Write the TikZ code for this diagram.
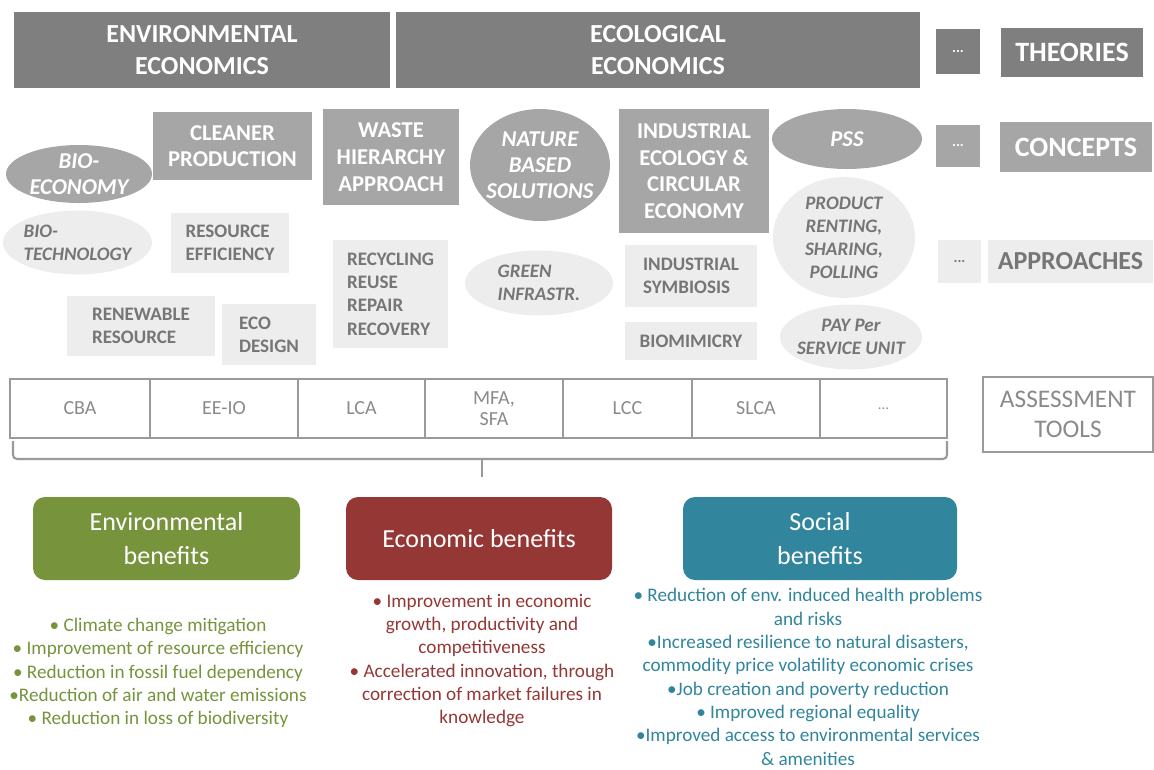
\documentclass[tikz,border=0pt]{standalone}
\usepackage{fontspec}
\setmainfont{Carlito}
\usetikzlibrary{positioning}
\usetikzlibrary{shapes.geometric}

\definecolor{theorygray}{HTML}{7F7F7F}
\definecolor{conceptgray}{HTML}{A6A6A6}
\definecolor{approachgray}{HTML}{EDEDED}
\definecolor{approachtext}{HTML}{767676}
\definecolor{toolline}{HTML}{9A9A9A}
\definecolor{tooltext}{HTML}{8A8A8A}
\definecolor{envgreen}{HTML}{77933C}
\definecolor{ecored}{HTML}{953735}
\definecolor{socteal}{HTML}{31859C}

\tikzset{sz/.style 2 args={minimum width=#1*0.75pt, minimum height=#2*0.75pt}}

\begin{document}
\begin{tikzpicture}[x=0.75pt, y=-0.75pt,
  every node/.style={inner sep=0pt, outer sep=0pt},
  theory/.style={fill=theorygray, text=white, align=center, font=\bfseries\fontsize{19.5}{23.5}\selectfont},
  concept/.style={fill=conceptgray, text=white, align=center, font=\bfseries\fontsize{17}{20}\selectfont},
  conceptoval/.style={concept, ellipse, inner sep=-8pt, font=\bfseries\itshape\fontsize{17}{19.5}\selectfont},
  approach/.style={fill=approachgray, text=approachtext, align=left, font=\bfseries\fontsize{14.3}{17.5}\selectfont},
  approachoval/.style={approach, ellipse, inner sep=-8pt, font=\bfseries\itshape\fontsize{14.3}{17.3}\selectfont},
  tool/.style={draw=toolline, line width=0.8pt, text=tooltext, align=center, font=\fontsize{15}{15.5}\selectfont},
  benefit/.style={rounded corners=9pt, text=white, align=center, font=\fontsize{19.5}{25.5}\selectfont},
  bullets/.style={align=center, font=\fontsize{14.4}{17.5}\selectfont},
  bracket/.style={draw=toolline, line width=1.6pt, rounded corners=3pt}]

  % frame of the page
  \useasboundingbox (0,0) rectangle (1154,769);

  % Theories
  \node[theory, sz={376}{76}] (envecon) at (202,50) {ENVIRONMENTAL\\ECONOMICS};
  \node[theory, sz={524}{76}] (ecoecon) at (658,50) {ECOLOGICAL\\ECONOMICS};
  \node[theory, sz={44}{45}, font=\bfseries\fontsize{11}{12}\selectfont] (tdots) at (958,51.5) {...};
  \node[theory, sz={142}{49}, font=\bfseries\fontsize{21}{24}\selectfont] (theories) at (1072,52.5) {THEORIES};

  % Concepts
  \node[conceptoval, sz={146}{58}] (bioeco) at (79,174) {BIO-\\ECONOMY};
  \node[concept, sz={159}{68}] (cleaner) at (232.5,146) {CLEANER\\PRODUCTION};
  \node[concept, sz={136}{96}] (waste) at (391,157) {WASTE\\HIERARCHY\\APPROACH};
  \node[conceptoval, sz={140}{112}] (nbs) at (540,165) {NATURE\\BASED\\SOLUTIONS};
  \node[concept, sz={150}{124}] (indeco) at (694,171) {INDUSTRIAL\\ECOLOGY \&\\CIRCULAR\\ECONOMY};
  \node[conceptoval, sz={150}{60}] (pss) at (847,139) {PSS};
  \node[concept, sz={44}{42}, font=\bfseries\fontsize{11}{12}\selectfont] (cdots) at (958,146) {...};
  \node[concept, sz={152}{50}, font=\bfseries\fontsize{21}{24}\selectfont] (concepts) at (1076,147) {CONCEPTS};

  % Approaches
  \node[approachoval, sz={149}{64}, align=left] (biotech) at (77.5,242.5) {BIO-\\TECHNOLOGY};
  \node[approach, sz={118}{60}] (reseff) at (230,243) {RESOURCE\\EFFICIENCY};
  \node[approach, sz={148}{60}] (renew) at (141,326) {RENEWABLE\\RESOURCE};
  \node[approach, sz={94}{61}] (ecodes) at (269,334.5) {ECO\\DESIGN};
  \node[approach, sz={115}{108}] (recyc) at (390.5,294) {RECYCLING\\REUSE\\REPAIR\\RECOVERY};
  \node[approachoval, sz={148}{65}, align=left] (green) at (539,283) {GREEN\\INFRASTR.};
  \node[approach, sz={132}{62}] (indsym) at (691,276) {INDUSTRIAL\\SYMBIOSIS};
  \node[approach, sz={132}{38}] (biomim) at (691,341) {BIOMIMICRY};
  \node[approachoval, sz={142}{121}, align=center] (renting) at (844,237.5) {PRODUCT\\RENTING,\\SHARING,\\POLLING};
  \node[approachoval, sz={142}{65}, align=center] (payper) at (851,337) {PAY Per\\SERVICE UNIT};
  \node[approach, sz={43}{43}, font=\bfseries\fontsize{11}{12}\selectfont] (adots) at (959.5,261.5) {...};
  \node[approach, sz={165}{43}, font=\bfseries\fontsize{19.5}{22}\selectfont] (approaches) at (1070.5,261.5) {APPROACHES};

  % Assessment tools
  \node[tool, sz={140}{59}] (cba) at (80,408.5) {CBA};
  \node[tool, sz={148}{59}, right=0pt of cba] (eeio) {EE-IO};
  \node[tool, sz={127}{59}, right=0pt of eeio] (lca) {LCA};
  \node[tool, sz={138}{59}, right=0pt of lca] (mfa) {MFA,\\SFA};
  \node[tool, sz={129}{59}, right=0pt of mfa] (lcc) {LCC};
  \node[tool, sz={128}{59}, right=0pt of lcc] (slca) {SLCA};
  \node[tool, sz={127}{59}, right=0pt of slca, font=\fontsize{11}{12}\selectfont] (tldots) {...};
  \node[tool, sz={170}{75}, line width=1.2pt, font=\fontsize{19}{23}\selectfont] (tools) at (1068,414.5) {ASSESSMENT\\TOOLS};

  % Bracket
  \coordinate (brL) at (13,441);
  \coordinate (brM) at (482,459);
  \coordinate (brR) at (947,441);
  \coordinate (brT) at (482,477);
  \draw[bracket] (brL) |- (brM) -| (brR);
  \draw[bracket] (brM) -- (brT);

  % Benefits
  \node[benefit, fill=envgreen, sz={267}{83}] (envben) at (166.5,538.5) {Environmental\\benefits};
  \node[benefit, fill=ecored, sz={266}{83}] (ecoben) at (479,538.5) {Economic benefits};
  \node[benefit, fill=socteal, sz={274}{83}] (socben) at (820,538.5) {Social\\benefits};

  \node[bullets, text=envgreen] (envtext) at (158,673) {• Climate change mitigation\\• Improvement of resource efficiency\\• Reduction in fossil fuel dependency\\•Reduction of air and water emissions\\• Reduction in loss of biodiversity};
  \node[bullets, text=ecored] (ecotext) at (482,660.5) {• Improvement in economic\\growth, productivity and\\competitiveness\\• Accelerated innovation, through\\correction of market failures in\\knowledge};
  \node[bullets, text=socteal] (soctext) at (808,677) {• Reduction of env. induced health problems\\and risks\\•Increased resilience to natural disasters,\\commodity price volatility economic crises\\•Job creation and poverty reduction\\• Improved  regional equality\\•Improved access to environmental services\\\& amenities};
\end{tikzpicture}
\end{document}
